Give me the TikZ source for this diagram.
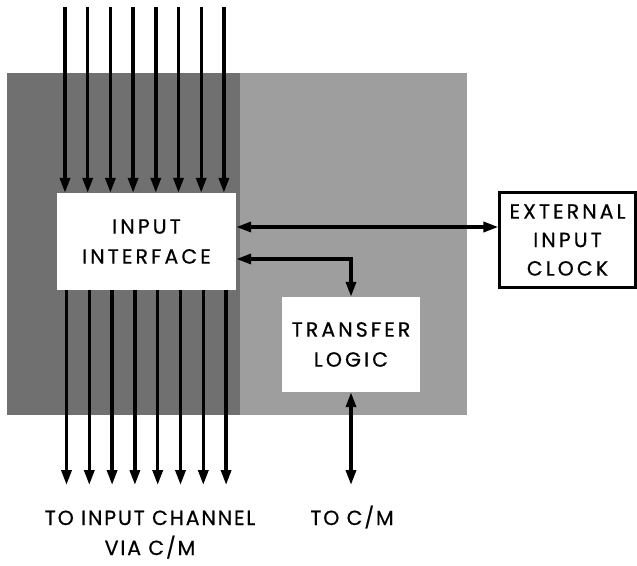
\documentclass[tikz,border=0pt]{standalone}
\usepackage{fontspec}
\newfontfamily\blockfont[LetterSpace=15,FakeBold=0.6]{Poppins}
\newfontfamily\captionfont[LetterSpace=9,FakeBold=0.6]{Poppins}
\usetikzlibrary{arrows.meta,positioning}

\definecolor{boarddark}{RGB}{112,112,112}
\definecolor{boardlight}{RGB}{158,158,158}

\tikzset{
  blocktext/.style={align=center, font=\blockfont\fontsize{20.5}{30}\selectfont},
  captiontext/.style={align=center, font=\captionfont\fontsize{20.5}{30}\selectfont},
  block/.style={blocktext, fill=white, inner sep=0pt},
  clockbox/.style={block, draw=black, line width=2.2pt},
  sig/.style={line width=3.4pt, -{Triangle[length=15pt,width=10pt]}},
  sigboth/.style={line width=3.4pt, {Triangle[length=15pt,width=10pt]}-{Triangle[length=15pt,width=10pt]}},
}

\begin{document}
\begin{tikzpicture}[x=1pt, y=-1pt]
        \useasboundingbox (0,0) rectangle (637,565);
        % shaded board
        \fill[boarddark] (7,73) rectangle (240,415);
        \fill[boardlight] (240,73) rectangle (467,415);

        % blocks
        \node[block, minimum width=179pt, minimum height=97pt] (iface) at (146.5,241.5) {INPUT\\INTERFACE};
        \node[block, minimum width=138pt, minimum height=95pt] (xfer) at (351,344.5) {TRANSFER\\LOGIC};
        \node[clockbox, font=\blockfont\fontsize{20.5}{28.5}\selectfont, minimum width=136pt, minimum height=95pt] (clock) at (567.5,240) {EXTERNAL\\INPUT\\CLOCK};

        % data lines in and out
        \foreach \i in {0,...,7} {
          \coordinate (in\i) at (65+22.7*\i,7);
          \coordinate (out\i) at (66.5+22.8*\i,485);
          \draw[sig] (in\i) -- (in\i |- iface.north);
          \draw[sig] (out\i |- iface.south) -- (out\i);
        }

        % clock and transfer connections
        \coordinate (clk) at ([yshift=14.5pt]iface.east);
        \coordinate (ack) at ([yshift=-17.5pt]iface.east);
        \draw[sigboth] (clk) -- (clk -| clock.west);
        \draw[sigboth] (ack) -| (xfer.north);
        \coordinate (cm) at (351,485);
        \draw[sigboth] (xfer.south) -- (cm);

        % captions
        \node[captiontext, anchor=base] (chan) at (150,555) {TO INPUT CHANNEL\\VIA C/M};
        \node[captiontext, anchor=base] (cmlabel) at (352,525) {TO C/M};
\end{tikzpicture}
\end{document}
